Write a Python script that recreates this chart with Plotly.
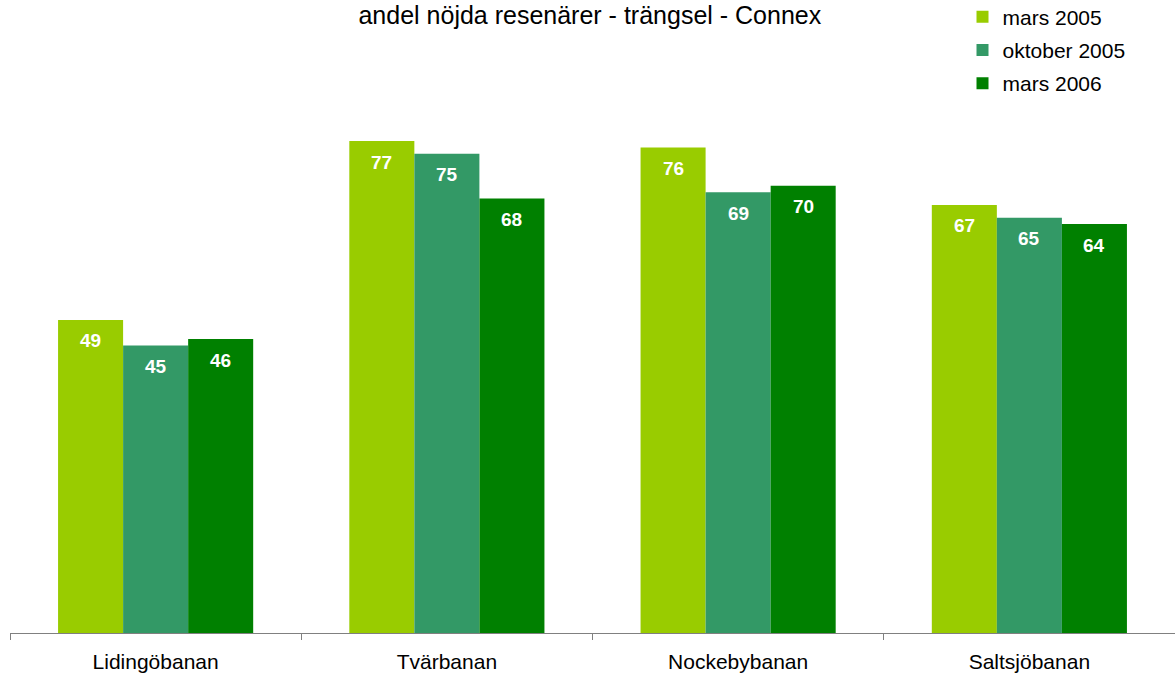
import plotly.graph_objects as go

# Satisfaction share on crowding, per line and survey wave
lines = ["Lidingöbanan", "Tvärbanan", "Nockebybanan", "Saltsjöbanan"]
waves = ["mars 2005", "oktober 2005", "mars 2006"]
mars_2005 = [49, 77, 76, 67]
oktober_2005 = [45, 75, 69, 65]
mars_2006 = [46, 68, 70, 64]
colors = ["#99CC00", "#339966", "#008000"]

FONT = "Arial, Liberation Sans, sans-serif"
W, H = 1175, 677
M_L, M_R, M_T, M_B = 10, 0, 58, 44
BARGAP = 0.33

series = [mars_2005, oktober_2005, mars_2006]

fig = go.Figure()
for name, vals, col in zip(waves, series, colors):
    fig.add_trace(go.Bar(
        x=lines, y=vals, name=name, legendgroup=name,
        marker=dict(color=col, line=dict(width=0)),
    ))

# value labels inside the top of each bar
slot = (W - M_L - M_R) / len(lines)
bar_w = slot * (1 - BARGAP) / len(series)
for i, vals in enumerate(series):
    off = (i - (len(series) - 1) / 2) * bar_w
    for cat, v in zip(lines, vals):
        fig.add_annotation(
            x=cat, y=v, xref="x", yref="y", text=str(v), showarrow=False,
            xshift=off, yshift=-21, yanchor="middle", xanchor="center",
            font=dict(family=FONT, size=19, color="white", weight="bold"),
        )

fig.update_layout(
    width=W, height=H,
    margin=dict(l=M_L, r=M_R, t=M_T, b=M_B, autoexpand=False),
    paper_bgcolor="white", plot_bgcolor="white",
    barmode="group", bargap=BARGAP, bargroupgap=0,
    title=dict(text="andel nöjda resenärer - trängsel - Connex",
               x=0.502, xanchor="center", y=0.978, yanchor="middle",
               font=dict(family=FONT, size=25, color="black")),
    font=dict(family=FONT, color="black"),
    showlegend=True,
    legend=dict(x=0.8176, xanchor="left", y=1.107, yanchor="top",
                yref="paper", traceorder="grouped", tracegroupgap=3,
                font=dict(family=FONT, size=21, color="black"),
                itemwidth=30, bgcolor="rgba(0,0,0,0)"),
    xaxis=dict(showline=True, linecolor="#808080", linewidth=1,
               ticks="outside", tickson="boundaries", ticklen=6,
               tickcolor="#808080", ticklabelstandoff=10,
               tickfont=dict(family=FONT, size=21, color="black"),
               showgrid=False, zeroline=False),
    yaxis=dict(range=[0, 90], visible=False, showgrid=False, zeroline=False),
)

fig.write_html("out.html")
